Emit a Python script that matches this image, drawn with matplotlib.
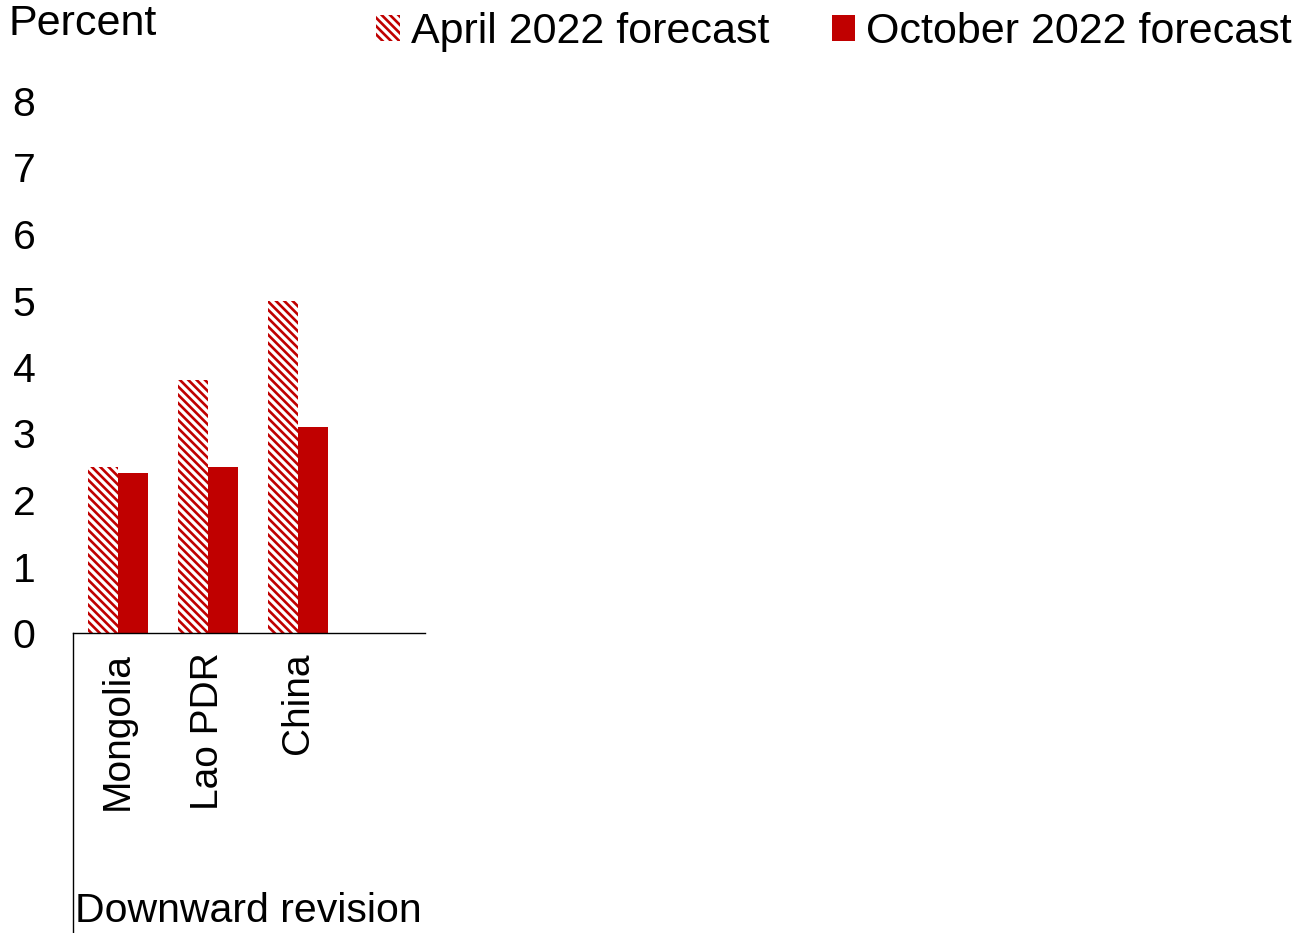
import matplotlib
matplotlib.use("Agg")
import matplotlib.pyplot as plt
import numpy as np
from matplotlib.lines import Line2D

plt.rcParams['font.family'] = ['Liberation Sans', 'DejaVu Sans']
plt.rcParams['hatch.linewidth'] = 1.9

# Data
countries = ["Mongolia", "Lao PDR", "China"]
april_2022 = [2.5, 3.8, 5.0]
october_2022 = [2.4, 2.5, 3.1]
series_labels = ["April 2022 forecast", "October 2022 forecast"]
group_label = "Downward revision"
y_ticks = list(range(0, 9))

RED = "#C00000"
FS = 29.5
XLAB_FS = 28
LEG_FS = 31

W, H = 1294, 933
fig = plt.figure(figsize=(W / 100, H / 100), dpi=100)
ax = fig.add_axes([73 / W, 1 - 633 / H, (425 - 73) / W, (633 - 101) / H])

x = np.arange(len(countries))
bw = 1 / 3
b1 = ax.bar(x - bw / 2, april_2022, width=bw, facecolor="white", edgecolor=RED,
            linewidth=0, hatch="\\\\\\\\", label=series_labels[0])
b2 = ax.bar(x + bw / 2, october_2022, width=bw, color=RED, linewidth=0,
            label=series_labels[1])

ax.set_xlim(-0.5, 3.41)
ax.set_ylim(0, 8)
ax.set_yticks(y_ticks)
ax.set_yticklabels([str(t) for t in y_ticks], fontsize=FS)
ax.tick_params(axis="y", length=0, pad=27)
ax.set_xticks(x)
ax.set_xticklabels(countries, rotation=90, fontsize=XLAB_FS, va="top", ha="center")
ax.tick_params(axis="x", length=0, pad=14)

for s in ["left", "right", "top"]:
    ax.spines[s].set_visible(False)
ax.spines["bottom"].set_color("black")
ax.spines["bottom"].set_linewidth(1.0)

# Group separator below the axis
fig.add_artist(Line2D([73 / W, 73 / W], [0, 1 - 633 / H], color="black",
                      linewidth=1.0, transform=fig.transFigure))
fig.text(75 / W, 1 - 911 / H, group_label, fontsize=FS, ha="left", va="center")

fig.text(8 / W, 1 - 24 / H, "Percent", fontsize=31, ha="left", va="center")

leg = fig.legend(handles=[b1, b2], labels=series_labels, loc="center right",
                 bbox_to_anchor=(1292 / W, 1 - 32 / H), ncol=2, frameon=False,
                 fontsize=LEG_FS, handlelength=0.55, handleheight=0.55,
                 handletextpad=0.25, columnspacing=1.45, borderpad=0,
                 borderaxespad=0)

fig.savefig("out.png", dpi=100)
